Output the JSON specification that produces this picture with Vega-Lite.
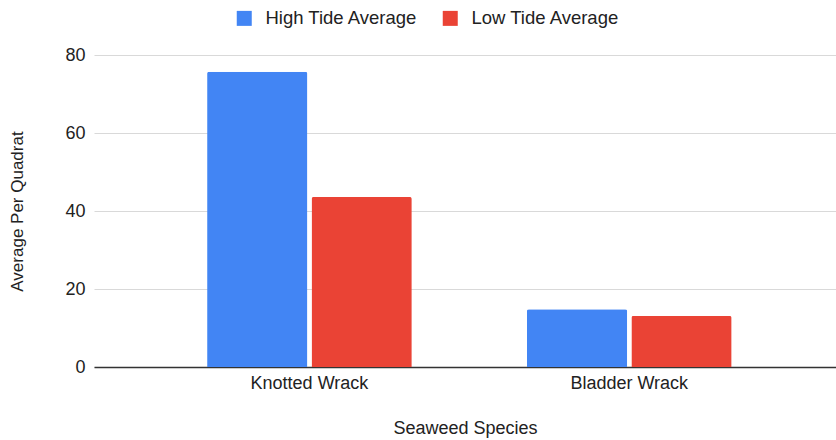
{
  "$schema": "https://vega.github.io/schema/vega-lite/v6.json",
  "autosize": "none",
  "width": 742,
  "height": 312,
  "padding": {"left": 94, "top": 55, "right": 0, "bottom": 73},
  "background": "white",
  "config": {
    "view": {"stroke": null},
    "font": "Liberation Sans",
    "axis": {"labelFont": "Liberation Sans", "titleFont": "Liberation Sans", "labelColor": "#222", "titleColor": "#222", "titleFontWeight": "normal"},
    "legend": {"labelFont": "Liberation Sans", "labelColor": "#222"}
  },
  "data": {
    "values": [
      {"species": "Knotted Wrack", "tide": "High Tide Average", "value": 75.7},
      {"species": "Knotted Wrack", "tide": "Low Tide Average", "value": 43.6},
      {"species": "Bladder Wrack", "tide": "High Tide Average", "value": 14.8},
      {"species": "Bladder Wrack", "tide": "Low Tide Average", "value": 13.1}
    ]
  },
  "mark": {"type": "bar", "cornerRadiusTopLeft": 2, "cornerRadiusTopRight": 2},
  "encoding": {
    "x": {
      "field": "species",
      "type": "nominal",
      "sort": ["Knotted Wrack", "Bladder Wrack"],
      "scale": {"paddingInner": 0.36, "paddingOuter": 0.34, "align": 0.52},
      "axis": {
        "title": "Seaweed Species",
        "labelAngle": 0,
        "labelFontSize": 18,
        "titleFontSize": 18,
        "ticks": false,
        "domainColor": "#333",
        "domainWidth": 1.5,
        "labelPadding": 7,
        "titlePadding": 27
      }
    },
    "xOffset": {
      "field": "tide",
      "type": "nominal",
      "scale": {"paddingInner": 0.04, "paddingOuter": 0}
    },
    "y": {
      "field": "value",
      "type": "quantitative",
      "scale": {"domain": [0, 80], "nice": false},
      "axis": {
        "title": "Average Per Quadrat",
        "values": [0, 20, 40, 60, 80],
        "labelFontSize": 18,
        "titleFontSize": 17,
        "ticks": false,
        "domain": false,
        "gridColor": "#d9d9d9",
        "labelPadding": 9,
        "titlePadding": 38
      }
    },
    "color": {
      "field": "tide",
      "type": "nominal",
      "scale": {"domain": ["High Tide Average", "Low Tide Average"], "range": ["#4285F4", "#EA4335"]},
      "legend": {
        "title": null,
        "orient": "none",
        "direction": "horizontal",
        "legendX": 141,
        "legendY": -46,
        "symbolType": "square",
        "symbolSize": 225,
        "symbolStrokeWidth": 0,
        "labelFontSize": 18.5,
        "labelOffset": 12,
        "columnPadding": 23
      }
    }
  }
}
